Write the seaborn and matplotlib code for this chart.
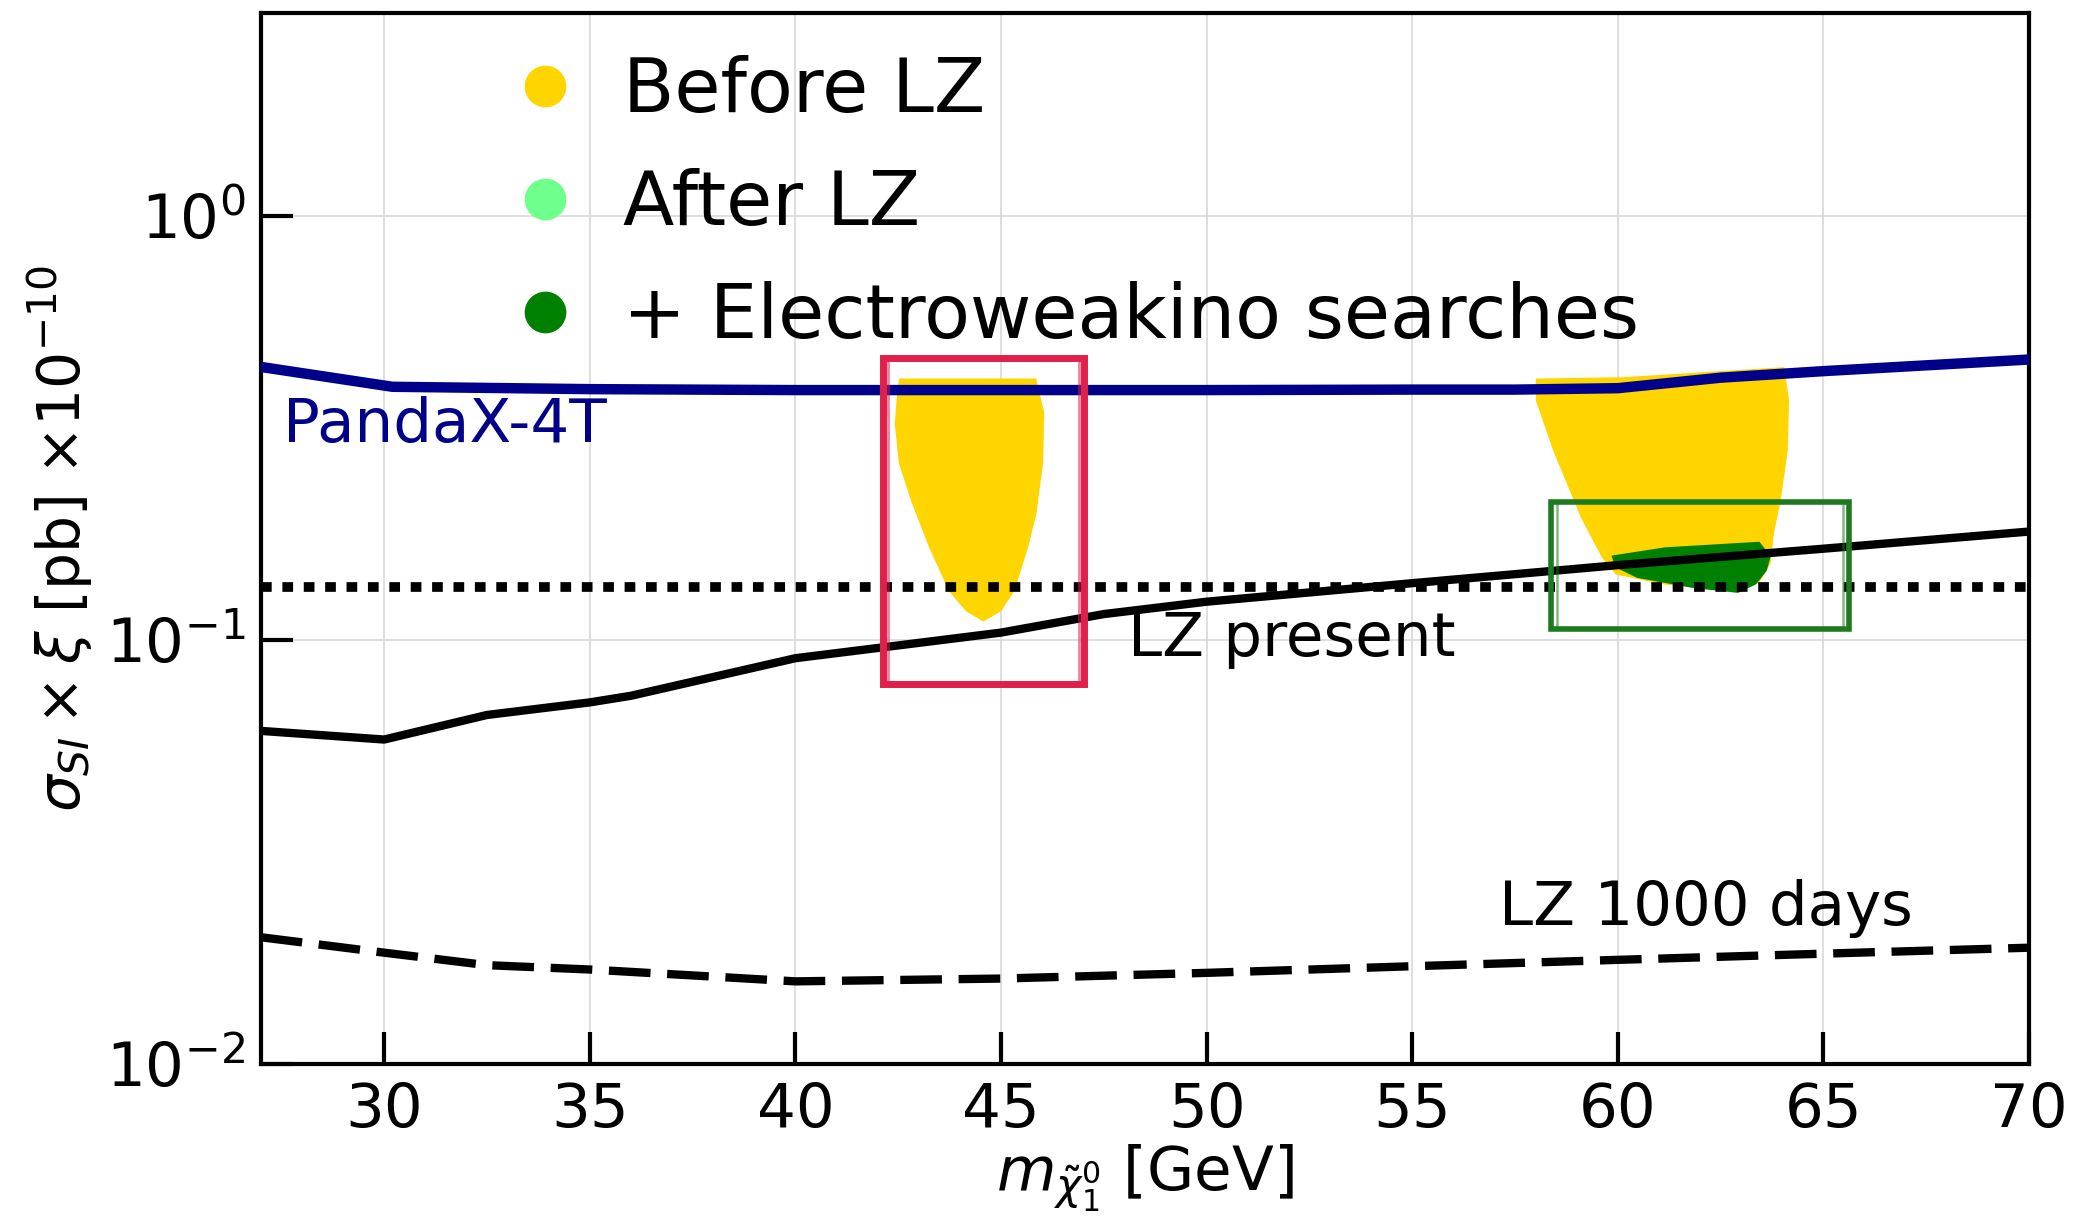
import matplotlib
matplotlib.use("Agg")
import matplotlib.pyplot as plt
from matplotlib.lines import Line2D
from matplotlib.patches import Rectangle
import numpy as np
import pandas as pd
import seaborn as sns

# ---- limits from direct-detection experiments ----
pandax_x = [27, 30.2, 35, 40, 45, 50, 55, 57.5, 60, 62.5, 65, 70]
pandax_y = [0.440, 0.395, 0.390, 0.388, 0.388, 0.388, 0.389, 0.389, 0.392, 0.415, 0.430, 0.458]

lz_x = [27, 30, 32.5, 35, 36, 40, 42.5, 45, 47.5, 50, 55, 60, 65, 70]
lz_y = [0.061, 0.0582, 0.0665, 0.0712, 0.0738, 0.0905, 0.097, 0.104, 0.115, 0.123, 0.136, 0.150, 0.164, 0.180]

lz1000_x = [27, 30, 32.5, 35, 40, 45, 50, 55, 60, 65, 70]
lz1000_y = [0.0199, 0.0183, 0.0171, 0.0167, 0.01566, 0.0159, 0.0164, 0.0170, 0.0176, 0.0182, 0.0188]

lz_present_level = 0.1334

# ---- allowed parameter-space regions (boundary outlines) ----
before_lz_a_x = [42.55, 45.83, 46.02, 45.99, 45.83, 45.63, 45.30, 44.98, 44.57,
                 44.17, 43.76, 43.28, 42.87, 42.55, 42.45, 42.51]
before_lz_a_y = [0.410, 0.410, 0.342, 0.261, 0.199, 0.166, 0.131, 0.1175, 0.1114,
                 0.1175, 0.131, 0.166, 0.210, 0.261, 0.324, 0.381]

before_lz_b_x = [58.04, 60.14, 64.02, 64.13, 64.10, 63.93, 63.76, 63.68, 63.43,
                 62.84, 61.15, 59.97, 59.64, 59.13, 58.46, 58.04]
before_lz_b_y = [0.410, 0.413, 0.436, 0.367, 0.280, 0.214, 0.178, 0.1515, 0.138,
                 0.131, 0.136, 0.1435, 0.157, 0.195, 0.280, 0.367]

ewkino_x = [59.89, 61.15, 63.43, 63.68, 63.59, 63.34, 62.92, 61.83, 60.48, 59.97]
ewkino_y = [0.157, 0.164, 0.169, 0.157, 0.146, 0.136, 0.130, 0.1335, 0.141, 0.149]

# highlighted boxes: (x0, x1, y0, y1)
red_box = (42.14, 47.01, 0.078, 0.473)
green_box = (58.37, 65.62, 0.1037, 0.214)

legend_labels = ["Before LZ", "After LZ", "+ Electroweakino searches"]
legend_colors = ["#FFD500", "#6FFF8C", "#008000"]

x_ticks = [30, 35, 40, 45, 50, 55, 60, 65, 70]

sns.set_theme(style="ticks")
plt.rcParams["font.family"] = ["DejaVu Sans"]
plt.rcParams["mathtext.fontset"] = "dejavusans"
for key in ["text.color", "axes.labelcolor", "xtick.color", "ytick.color",
            "xtick.labelcolor", "ytick.labelcolor"]:
    plt.rcParams[key] = "black"

fig = plt.figure(figsize=(20.86, 12.21), dpi=100)
ax = fig.add_axes([0.125, 0.1286, 0.8477, 0.8605])

# allowed regions
ax.fill(before_lz_a_x, before_lz_a_y, color=legend_colors[0], linewidth=2, zorder=2)
ax.fill(before_lz_b_x, before_lz_b_y, color=legend_colors[0], linewidth=2, zorder=2)
ax.fill(ewkino_x, ewkino_y, color=legend_colors[2], linewidth=2, zorder=2.1)

# exclusion curves
pandax_df = pd.DataFrame({"m": pandax_x, "s": pandax_y})
lz_df = pd.DataFrame({"m": lz_x, "s": lz_y})
lz1000_df = pd.DataFrame({"m": lz1000_x, "s": lz1000_y})

sns.lineplot(data=pandax_df, x="m", y="s", ax=ax, color="#00008B", sort=False)
sns.lineplot(data=lz_df, x="m", y="s", ax=ax, color="black", sort=False)
sns.lineplot(data=lz1000_df, x="m", y="s", ax=ax, color="black", sort=False)
pandax_line, lz_line, lz1000_line = ax.get_lines()[:3]
pandax_line.set_linewidth(7.5)
lz_line.set_linewidth(6)
lz1000_line.set_linewidth(6)
lz1000_line.set_linestyle((0, (5.0, 2.0)))
for ln in (pandax_line, lz_line, lz1000_line):
    ln.set_zorder(3)

ax.axhline(lz_present_level, color="black", linewidth=7, linestyle=(0, (1.1, 1.1)),
           dash_capstyle="butt", zorder=3.5)

# highlight boxes: a bold stroke plus a faint inner stroke
for dx, lw, a in [(0.0, 5, 1.0), (0.12, 2, 0.55)]:
    x0, x1, y0, y1 = red_box
    ax.add_patch(Rectangle((x0 + dx, y0 * 1.01), x1 - x0 - 2 * dx, (y1 - y0) * 0.97,
                           fill=False, ec="#E0204A", linewidth=lw, alpha=a, zorder=5))
for dx, lw, a in [(0.0, 4, 1.0), (0.15, 1.8, 0.55)]:
    x0, x1, y0, y1 = green_box
    ax.add_patch(Rectangle((x0 + dx, y0 * 1.02), x1 - x0 - 2 * dx, (y1 - y0) * 0.96,
                           fill=False, ec="#1E7A1E", linewidth=lw, alpha=a, zorder=5))

# curve labels
ax.text(27.55, 0.32, "PandaX-4T", color="#00008B", fontsize=44, va="center", ha="left")
ax.text(48.1, 0.1, "LZ present", color="black", fontsize=44, va="center", ha="left")
ax.text(57.11, 0.0233, "LZ 1000 days", color="black", fontsize=44, va="center", ha="left")

ax.set_yscale("log")
ax.set_xlim(27, 70)
ax.set_ylim(0.01, 3)
ax.set_xticks(x_ticks)
ax.set_yticks([0.01, 0.1, 1])
ax.yaxis.set_minor_locator(matplotlib.ticker.NullLocator())
ax.grid(True, which="major", color="#d9d9d9", linewidth=1.2, zorder=0)

ax.tick_params(axis="both", which="major", direction="in", length=23, width=3,
               labelsize=44, colors="black")
ax.tick_params(axis="x", pad=12)
ax.tick_params(axis="y", pad=11)
for sp in ax.spines.values():
    sp.set_linewidth(3)
    sp.set_color("black")

ax.set_xlabel(r"$m_{\tilde{\chi}_1^0}$ [GeV]", fontsize=44, labelpad=2)
ax.set_ylabel(r"$\sigma_{SI}\times\xi$ [pb] $\times10^{-10}$", fontsize=42, labelpad=8)

handles = [Line2D([0], [0], marker="o", ls="none", markersize=29,
                  markerfacecolor=c, markeredgecolor=c) for c in legend_colors]
ax.legend(handles, legend_labels, loc="upper left", bbox_to_anchor=(0.144, 0.960),
          frameon=False, fontsize=54, handlelength=0.8, handletextpad=0.63,
          labelspacing=0.53, borderpad=0, borderaxespad=0)

fig.savefig("out.png", dpi=100)
